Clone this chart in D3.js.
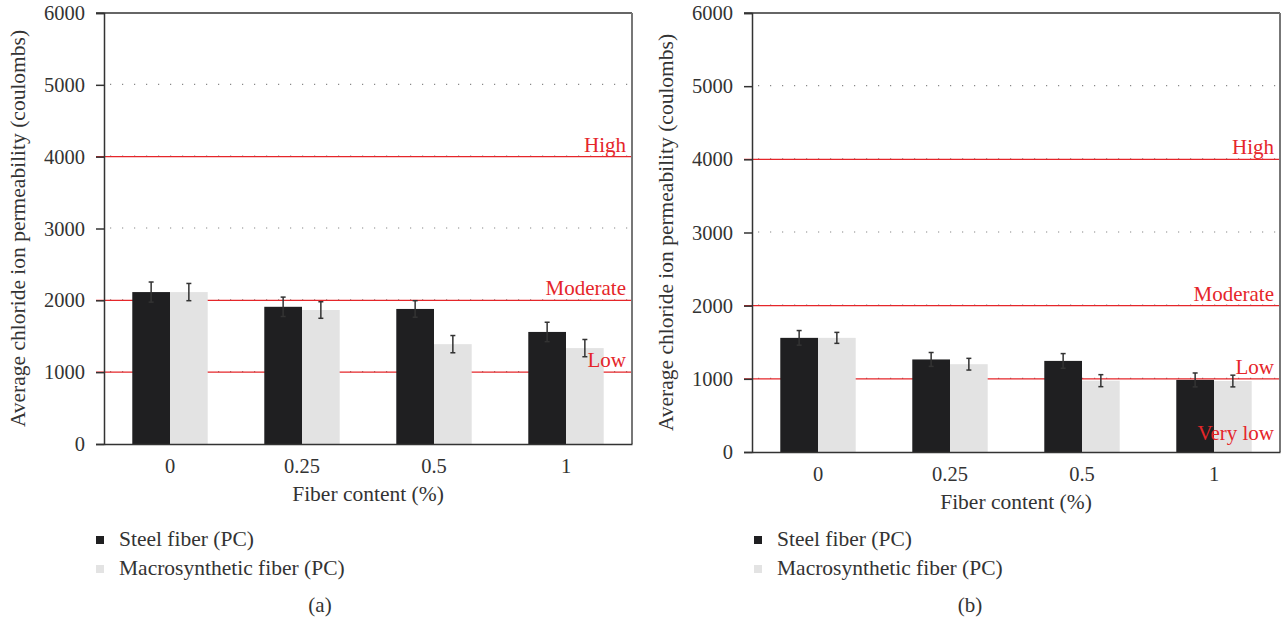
<!DOCTYPE html>
<html>
<head>
<meta charset="utf-8">
<script src="https://cdn.jsdelivr.net/npm/d3@7"></script>
<style>
  body { margin: 0; background: #fff; }
  svg text { font-family: "Liberation Serif", "DejaVu Serif", serif; }
</style>
</head>
<body>
<svg id="chart" width="1285" height="625"></svg>
<script>
// data
const fiberContent = ["0", "0.25", "0.5", "1"];
const seriesNames = ["Steel fiber (PC)", "Macrosynthetic fiber (PC)"];

// (a)
const steelA = [2115, 1910, 1880, 1560];
const steelErrA = [140, 135, 115, 135];
const macroA = [2115, 1865, 1390, 1335];
const macroErrA = [120, 115, 120, 120];

// (b)
const steelB = [1560, 1265, 1245, 985];
const steelErrB = [100, 95, 100, 95];
const macroB = [1560, 1200, 975, 970];
const macroErrB = [75, 80, 82, 80];

const yTicks = [0, 1000, 2000, 3000, 4000, 5000, 6000];
const gridValues = [1000, 2000, 3000, 4000, 5000];
const limitValues = [1000, 2000, 4000];
const labelsA = [["High", 4000], ["Moderate", 2000], ["Low", 1000]];
const labelsB = [["High", 4000], ["Moderate", 2000], ["Low", 1000], ["Very low", 0]];

const colors = ["#1f1f21", "#e3e3e3"];
const red = "#e5262a";
const ink = "#333";

const svg = d3.select("#chart");

function drawPanel(p) {
    let g = svg.append("g");

    let x = d3.scaleBand()
        .domain(fiberContent)
        .range([p.left, p.right]);

    let y = d3.scaleLinear()
        .domain([0, 6000])
        .range([p.bottom, p.top]);

    let barW = x.bandwidth() / 3.5;

    // dotted grid
    g.selectAll(".grid").data(gridValues).enter()
        .append("line")
        .attr("x1", p.left + 6).attr("x2", p.right)
        .attr("y1", function(d) { return y(d) - 0.5; })
        .attr("y2", function(d) { return y(d) - 0.5; })
        .attr("stroke", "#888")
        .attr("stroke-width", 1.2)
        .attr("stroke-dasharray", "1.2,10.8");

    // limit lines
    g.selectAll(".limit").data(limitValues).enter()
        .append("line")
        .attr("x1", p.left - 8).attr("x2", p.right)
        .attr("y1", function(d) { return y(d); })
        .attr("y2", function(d) { return y(d); })
        .attr("stroke", red)
        .attr("stroke-width", 1.4);

    // bars
    let series = [[p.steel, p.steelErr], [p.macro, p.macroErr]];
    series.forEach(function(s, i) {
        let bx = function(d, j) { return x(fiberContent[j]) + x.bandwidth() / 2 - barW + i * barW; };
        g.selectAll(".bar" + i).data(s[0]).enter()
            .append("rect")
            .attr("x", bx)
            .attr("y", function(d) { return y(d); })
            .attr("width", barW)
            .attr("height", function(d) { return y(0) - y(d); })
            .attr("fill", colors[i]);

        let cx = function(j) { return bx(null, j) + barW / 2; };
        let eb = g.append("g");
        s[0].forEach(function(v, j) {
            let e = s[1][j];
            eb.append("line")
                .attr("x1", cx(j)).attr("x2", cx(j))
                .attr("y1", y(v + e)).attr("y2", y(v - e))
                .attr("stroke", ink).attr("stroke-width", 1.5);
            [v + e, v - e].forEach(function(w) {
                eb.append("line")
                    .attr("x1", cx(j) - 2.5).attr("x2", cx(j) + 2.5)
                    .attr("y1", y(w)).attr("y2", y(w))
                    .attr("stroke", ink).attr("stroke-width", 1.5);
            });
        });
    });

    // labels for the limit lines
    g.selectAll(".lvl").data(p.labels).enter()
        .append("text")
        .attr("x", p.right - 6)
        .attr("y", function(d) { return y(d[1]) - (d[1] === 0 ? 12 : 5); })
        .attr("text-anchor", "end")
        .attr("fill", red)
        .style("font-size", "21px")
        .text(function(d) { return d[0]; });

    // frame
    g.append("line").attr("x1", p.left - 8).attr("x2", p.right)
        .attr("y1", p.top).attr("y2", p.top)
        .attr("stroke", ink).attr("stroke-width", 1.5);
    g.append("line").attr("x1", p.right).attr("x2", p.right)
        .attr("y1", p.top).attr("y2", p.bottom)
        .attr("stroke", "#777").attr("stroke-width", 2);

    // y axis
    let yAxis = g.append("g")
        .attr("transform", `translate(${p.left}, 0)`)
        .call(d3.axisLeft(y).tickValues(yTicks).tickSize(8).tickPadding(11).tickFormat(d3.format("d")));
    yAxis.select(".domain").attr("stroke", ink).attr("stroke-width", 1.5);
    yAxis.selectAll(".tick line").attr("stroke", ink).attr("stroke-width", 1.5);
    yAxis.selectAll(".tick text")
        .attr("fill", ink)
        .style("font-size", "20.5px")
        .style("font-family", "'Liberation Serif', serif");

    // x axis
    let xAxis = g.append("g")
        .attr("transform", `translate(0, ${p.bottom})`)
        .call(d3.axisBottom(x).tickSize(0).tickPadding(14));
    xAxis.select(".domain").attr("stroke", ink).attr("stroke-width", 1.5);
    xAxis.selectAll(".tick text")
        .attr("fill", ink)
        .style("font-size", "20.5px")
        .style("font-family", "'Liberation Serif', serif");

    // axis titles
    g.append("text")
        .attr("x", (p.left + p.right) / 2)
        .attr("y", p.bottom + 57)
        .attr("text-anchor", "middle")
        .attr("fill", ink)
        .style("font-size", "21.5px")
        .text("Fiber content (%)");

    g.append("text")
        .attr("transform", `translate(${p.left - 79}, ${(p.top + p.bottom) / 2}) rotate(-90)`)
        .attr("text-anchor", "middle")
        .attr("fill", ink)
        .style("font-size", "21.5px")
        .text("Average chloride ion permeability (coulombs)");

    // legend
    seriesNames.forEach(function(name, i) {
        g.append("rect")
            .attr("x", p.legendX)
            .attr("y", 536 + i * 29)
            .attr("width", 8).attr("height", 8)
            .attr("fill", colors[i]);
        g.append("text")
            .attr("x", p.legendX + 23)
            .attr("y", 546 + i * 29)
            .attr("fill", ink)
            .style("font-size", "21.5px")
            .text(name);
    });

    g.append("text")
        .attr("x", p.tagX)
        .attr("y", 612)
        .attr("text-anchor", "middle")
        .attr("fill", ink)
        .style("font-size", "21px")
        .text(p.tag);
}

drawPanel({
    left: 104, right: 632, top: 13, bottom: 444,
    steel: steelA, steelErr: steelErrA, macro: macroA, macroErr: macroErrA,
    labels: labelsA, legendX: 96, tagX: 320, tag: "(a)"
});

drawPanel({
    left: 752, right: 1280, top: 13, bottom: 452,
    steel: steelB, steelErr: steelErrB, macro: macroB, macroErr: macroErrB,
    labels: labelsB, legendX: 754, tagX: 970, tag: "(b)"
});
</script>
</body>
</html>
